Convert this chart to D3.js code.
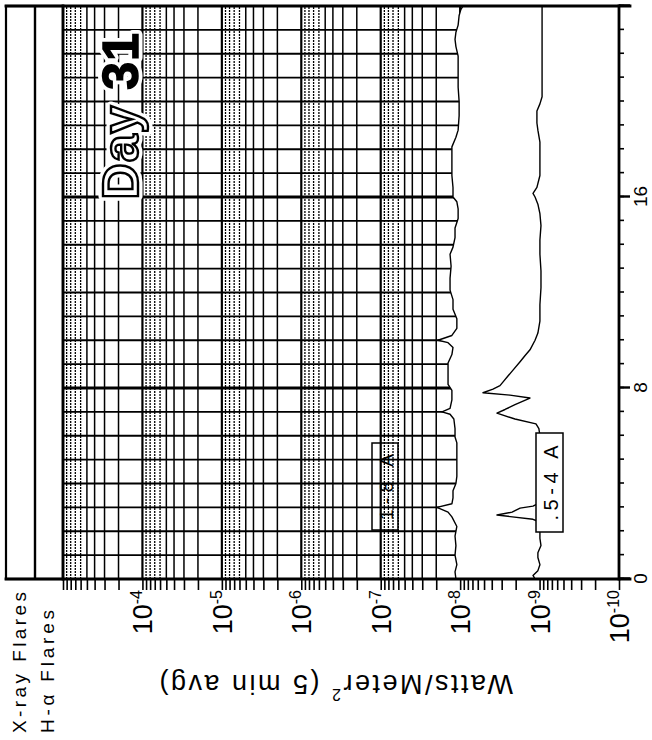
<!DOCTYPE html>
<html>
<head>
<meta charset="utf-8">
<script src="https://cdn.jsdelivr.net/npm/d3@7"></script>
<style>
  html, body { margin: 0; padding: 0; background: #fff; }
  svg { display: block; }
  text { font-family: "Liberation Sans", Arial, sans-serif; fill: #000; }
</style>
</head>
<body>
<svg id="chart" width="652" height="740"></svg>
<script>
// GOES X-ray flux, Day 31 (5 minute averages), plotted against UT hours.

// 1-8 Angstrom channel
const longHours = [0.0, 0.3, 0.6, 1.0, 1.4, 1.8, 2.2, 2.6, 2.8, 3.0, 3.15, 3.4, 3.7, 4.0, 4.3, 4.8, 5.3, 5.7,
  5.95, 6.3, 6.7, 6.9, 7.0, 7.15, 7.5, 7.9, 8.15, 8.6, 9.05, 9.4, 9.7, 9.9, 10.0, 10.2, 10.5, 10.9, 11.3,
  11.7, 12.1, 12.6, 13.1, 13.6, 13.9, 14.3, 14.7, 15.1, 15.5, 15.8, 16.0, 16.4, 16.9, 17.5, 18.1, 18.5,
  18.8, 19.4, 20.0, 20.6, 21.3, 21.9, 22.3, 22.6, 22.9, 23.2, 23.6, 23.85, 24.0];
const longFlux = [1.13e-8, 1.16e-8, 1.10e-8, 1.16e-8, 1.13e-8, 1.16e-8, 1.10e-8, 1.27e-8, 1.42e-8, 1.96e-8,
  1.27e-8, 1.23e-8, 1.23e-8, 1.13e-8, 1.10e-8, 1.10e-8, 1.10e-8, 1.10e-8, 1.16e-8, 1.16e-8, 1.20e-8,
  1.34e-8, 1.69e-8, 1.34e-8, 1.27e-8, 1.27e-8, 1.42e-8, 1.42e-8, 1.42e-8, 1.27e-8, 1.23e-8, 1.42e-8,
  1.90e-8, 1.27e-8, 1.10e-8, 1.10e-8, 1.23e-8, 1.23e-8, 1.34e-8, 1.34e-8, 1.30e-8, 1.34e-8, 1.23e-8,
  1.16e-8, 1.16e-8, 1.06e-8, 1.06e-8, 1.10e-8, 1.23e-8, 1.23e-8, 1.27e-8, 1.27e-8, 1.27e-8, 1.13e-8,
  1.06e-8, 1.03e-8, 1.03e-8, 1.06e-8, 1.06e-8, 1.06e-8, 1.13e-8, 1.16e-8, 1.13e-8, 1.06e-8, 1.03e-8,
  9.8e-9, 9.2e-9];

// 0.5-4 Angstrom channel
const shortHours = [0.0, 0.15, 0.35, 0.6, 0.9, 1.1, 1.4, 1.7, 2.0, 2.3, 2.45, 2.5, 2.68, 2.8, 2.97, 3.05, 3.2,
  3.6, 4.2, 4.8, 5.4, 6.0, 6.3, 6.5, 6.7, 6.95, 7.1, 7.3, 7.58, 7.7, 7.8, 7.95, 8.1, 8.3, 8.5, 8.75, 9.1,
  9.35, 9.6, 10.0, 10.3, 10.8, 11.5, 12.2, 12.9, 13.6, 14.2, 14.8, 15.3, 15.7, 16.0, 16.15, 16.4, 16.9,
  17.5, 18.3, 18.8, 19.1, 19.6, 19.9, 20.2, 21.0, 22.0, 23.0, 24.0];
const shortFlux = [1.14e-9, 1.21e-9, 1.05e-9, 9.9e-10, 1.05e-9, 1.05e-9, 9.6e-10, 9.9e-10, 9.9e-10, 9.6e-10,
  1.11e-9, 1.21e-9, 3.44e-9, 2.22e-9, 1.76e-9, 1.21e-9, 9.9e-10, 9.6e-10, 9.9e-10, 9.6e-10, 9.9e-10,
  9.9e-10, 1.02e-9, 1.11e-9, 2.04e-9, 3.44e-9, 2.72e-9, 2.04e-9, 1.32e-9, 2.36e-9, 5.16e-9, 3.86e-9,
  3.15e-9, 2.81e-9, 2.50e-9, 2.16e-9, 1.76e-9, 1.53e-9, 1.32e-9, 1.14e-9, 1.05e-9, 9.9e-10, 9.9e-10,
  9.6e-10, 9.6e-10, 9.9e-10, 9.9e-10, 9.6e-10, 9.9e-10, 1.05e-9, 1.14e-9, 1.21e-9, 1.08e-9, 9.9e-10,
  9.9e-10, 9.9e-10, 1.05e-9, 1.08e-9, 1.08e-9, 9.9e-10, 9.3e-10, 9.3e-10, 9.3e-10, 9.3e-10, 9.3e-10];

const hourTicks = d3.range(0, 25);
const majorHourTicks = [0, 8, 16, 24];
const hourLabels = [0, 8, 16];
const decadeExponents = [-10, -9, -8, -7, -6, -5, -4];
const gridExponents = [-8, -7, -6, -5, -4];
const stripNames = ["X-ray Flares", "H-\u03b1 Flares"];
const channelNames = ["1-8 A", ".5-4 A"];
const dayLabel = ["Day ", "31"];
const axisTitle = ["Watts/Meter", "2", " (5 min avg)"];

// ---- geometry (drawn in a landscape frame, then turned a quarter turn) ----
const W = 573;            // length of the time axis
const STRIP_MID = 29;     // divider between the two flare strips
const PLOT_TOP = 57;      // 1e-3 line
const PLOT_BOTTOM = 613;  // 1e-10 line

const time = d3.scaleLinear().domain([0, 24]).range([0, W]);
const flux = d3.scaleLog().domain([1e-3, 1e-10]).range([PLOT_TOP, PLOT_BOTTOM]);

const longData = longHours.map((t, i) => ({ t, f: longFlux[i] }));
const shortData = shortHours.map((t, i) => ({ t, f: shortFlux[i] }));

const svg = d3.select("#chart");
const g = svg.append("g").attr("transform", "translate(6,579) rotate(-90)");

// flare strips
g.append("rect").attr("x", 0).attr("y", 0).attr("width", W).attr("height", PLOT_TOP)
  .attr("fill", "none").attr("stroke", "#000").attr("stroke-width", 2.2);
g.append("line").attr("x1", 0).attr("x2", W).attr("y1", STRIP_MID).attr("y2", STRIP_MID)
  .attr("stroke", "#000").attr("stroke-width", 2.4);

// 1-8 A channel tag (the grid is drawn over it)
const tag1 = g.append("g");
tag1.append("rect").attr("x", 49).attr("y", 366).attr("width", 87).attr("height", 26)
  .attr("fill", "#fff").attr("stroke", "#000").attr("stroke-width", 1.5);
tag1.append("text").attr("x", 92).attr("y", 387).attr("text-anchor", "middle")
  .attr("font-size", 19).attr("textLength", 66).attr("lengthAdjust", "spacing")
  .attr("fill", "#333").text(channelNames[0]);

// grid, confined to the region above the 1-8 A curve
const clipArea = d3.area().x(d => time(d.t)).y0(PLOT_TOP).y1(d => flux(d.f));
svg.append("defs").append("clipPath").attr("id", "gridClip")
  .append("path").attr("d", clipArea(longData));
const grid = g.append("g").attr("clip-path", "url(#gridClip)");

const minorValues = [];
gridExponents.forEach(e => { for (let k = 2; k <= 9; k++) minorValues.push({ v: k * Math.pow(10, e), k }); });
grid.selectAll("line.minor").data(minorValues).join("line")
  .attr("class", "minor")
  .attr("x1", 0).attr("x2", W)
  .attr("y1", d => flux(d.v)).attr("y2", d => flux(d.v))
  .attr("stroke", "#000")
  .attr("stroke-width", d => d.k <= 5 ? 1.5 : 1.3)
  .attr("stroke-dasharray", d => d.k <= 5 ? null : "2,1");
grid.selectAll("line.decade").data(gridExponents).join("line")
  .attr("class", "decade")
  .attr("x1", 0).attr("x2", W)
  .attr("y1", e => flux(Math.pow(10, e))).attr("y2", e => flux(Math.pow(10, e)))
  .attr("stroke", "#000").attr("stroke-width", 2.2);
grid.selectAll("line.hour").data(hourTicks.filter(h => h > 0 && h < 24)).join("line")
  .attr("class", "hour")
  .attr("x1", h => time(h)).attr("x2", h => time(h))
  .attr("y1", PLOT_TOP).attr("y2", PLOT_BOTTOM)
  .attr("stroke", "#000").attr("stroke-width", h => h % 8 === 0 ? 3 : 1.8);

// day label
const day = g.append("g").attr("transform", `translate(${time(15.9)},132)`);
day.append("text").attr("font-size", 50).attr("font-weight", "bold").attr("letter-spacing", 1)
  .attr("stroke", "#fff").attr("stroke-width", 9).attr("stroke-linejoin", "round").attr("fill", "#fff")
  .text(dayLabel.join(""));
const dayText = day.append("text").attr("font-size", 50).attr("font-weight", "bold").attr("letter-spacing", 1);
dayText.append("tspan").attr("fill", "#fff").attr("stroke", "#000").attr("stroke-width", 2.4).text(dayLabel[0]);
dayText.append("tspan").attr("fill", "#000").attr("stroke", "#000").attr("stroke-width", 1.5).text(dayLabel[1]);

// flux curves
const line = d3.line().x(d => time(d.t)).y(d => flux(d.f));
g.append("path").attr("d", line(longData)).attr("fill", "none").attr("stroke", "#000")
  .attr("stroke-width", 1.4).attr("stroke-linejoin", "round");
g.append("path").attr("d", line(shortData)).attr("fill", "none").attr("stroke", "#000")
  .attr("stroke-width", 1.4).attr("stroke-linejoin", "round");

// .5-4 A channel tag
const tag2 = g.append("g");
tag2.append("rect").attr("x", 47).attr("y", 530).attr("width", 99).attr("height", 27)
  .attr("fill", "#fff").attr("stroke", "#000").attr("stroke-width", 1.5);
tag2.append("text").attr("x", 96).attr("y", 552).attr("text-anchor", "middle")
  .attr("font-size", 20).attr("textLength", 75).attr("lengthAdjust", "spacing")
  .text(channelNames[1]);

// flux axis ticks (all log positions)
const logTicks = [];
for (let e = -10; e <= -4; e++) for (let k = 1; k <= 9; k++) logTicks.push(k * Math.pow(10, e));
logTicks.push(1e-3);
const fluxAxis = g.append("g")
  .call(d3.axisLeft(flux).tickValues(logTicks).tickSize(11).tickSizeOuter(0).tickFormat(""));
fluxAxis.select(".domain").remove();
fluxAxis.selectAll(".tick line").attr("stroke-width", 1.6);

// time axis ticks and labels
const timeMinor = g.append("g").attr("transform", `translate(0,${PLOT_BOTTOM})`)
  .call(d3.axisBottom(time).tickValues(hourTicks).tickSize(5).tickSizeOuter(0).tickFormat(""));
timeMinor.select(".domain").remove();
timeMinor.selectAll(".tick line").attr("stroke-width", 1.6);
const timeMajor = g.append("g").attr("transform", `translate(0,${PLOT_BOTTOM})`)
  .call(d3.axisBottom(time).tickValues(majorHourTicks).tickSize(11).tickPadding(4).tickSizeOuter(0)
    .tickFormat(h => hourLabels.includes(h) ? String(h) : ""));
timeMajor.select(".domain").remove();
timeMajor.selectAll(".tick line").attr("stroke-width", 2.4);
timeMajor.selectAll(".tick text").attr("font-size", 19).attr("dy", "0.7em")
  .attr("font-family", "Liberation Sans, Arial, sans-serif");

// frame
const frame = [
  [0, 0, 0, PLOT_BOTTOM + 11],        // left (time = 0)
  [W, 0, W, PLOT_BOTTOM + 11],        // right (time = 24)
  [0, PLOT_BOTTOM, W, PLOT_BOTTOM],   // 1e-10 line
  [0, PLOT_TOP, W, PLOT_TOP]          // 1e-3 line
];
g.selectAll("line.frame").data(frame).join("line").attr("class", "frame")
  .attr("x1", d => d[0]).attr("y1", d => d[1]).attr("x2", d => d[2]).attr("y2", d => d[3])
  .attr("stroke", "#000").attr("stroke-width", 2.8).attr("stroke-linecap", "square");

// decade labels 10^n
const decLabels = g.selectAll("text.dec").data(decadeExponents).join("text")
  .attr("class", "dec")
  .attr("x", -11).attr("y", e => flux(Math.pow(10, e)) + 10)
  .attr("text-anchor", "end").attr("font-size", 27);
decLabels.append("tspan").text("10");
decLabels.append("tspan").attr("dy", -10).attr("font-size", 16).text(e => "-" + Math.abs(e));

// strip names
g.selectAll("text.strip").data(stripNames).join("text").attr("class", "strip")
  .attr("x", -154).attr("y", (d, i) => i === 0 ? 20 : 48)
  .attr("font-size", 19)
  .attr("textLength", (d, i) => i === 0 ? 141 : 123).attr("lengthAdjust", "spacing")
  .text(d => d);

// axis title
const title = g.append("text")
  .attr("transform", `translate(-96,${(PLOT_TOP + PLOT_BOTTOM) / 2 - 6}) rotate(-90)`)
  .attr("text-anchor", "middle").attr("font-size", 27).attr("letter-spacing", 2.5);
title.append("tspan").text(axisTitle[0]);
title.append("tspan").attr("dy", -14).attr("font-size", 16).text(axisTitle[1]);
title.append("tspan").attr("dy", 14).text(axisTitle[2]);
</script>
</body>
</html>
